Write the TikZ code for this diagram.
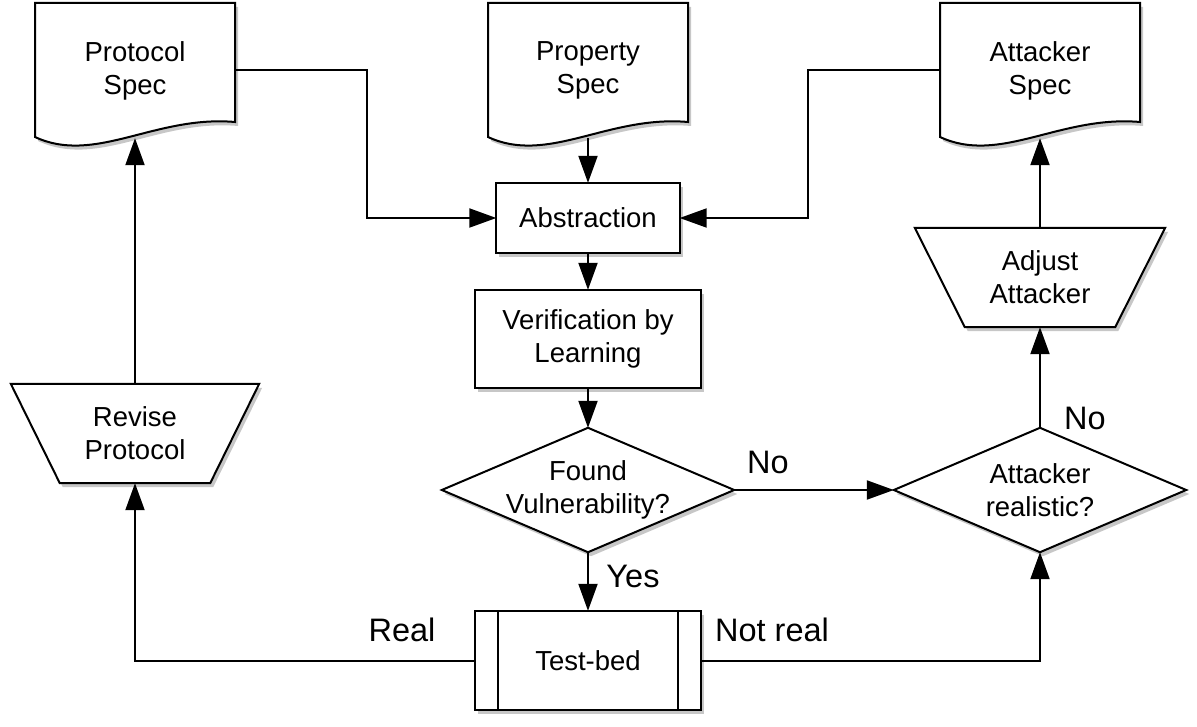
\documentclass[tikz,border=0pt]{standalone}
\usepackage{fontspec}
\setmainfont{Liberation Sans}
\usetikzlibrary{arrows.meta,shadows}
\pgfdeclarelayer{bg}
\pgfsetlayers{bg,main}
\begin{document}
\begin{tikzpicture}[x=1pt,y=-1pt,
  shp/.style={draw, line width=2pt, fill=white, line join=miter,
    drop shadow={shadow xshift=3pt, shadow yshift=-4pt, opacity=0.22, fill=black}},
  txt/.style={font=\fontsize{27.5}{33}\selectfont, align=center, inner sep=0pt},
  lbl/.style={font=\fontsize{32.5}{38}\selectfont, inner sep=0pt},
  conn/.style={line width=2pt, -{Triangle[length=27pt,width=19pt]}},
  plain/.style={line width=2pt}]
\useasboundingbox (0,0) rectangle (1197,727);

% invisible anchor nodes with text
\node[txt, minimum width=200pt, minimum height=135pt] (prot) at (135,70.5) {Protocol\\Spec};
\node[txt, minimum width=200pt, minimum height=135pt] (prop) at (588,70.5) {Property\\Spec};
\node[txt, minimum width=200pt, minimum height=135pt] (att) at (1040,70.5) {Attacker\\Spec};
\node[txt, minimum width=183pt, minimum height=70pt] (abs) at (588,218) {Abstraction};
\node[txt, minimum width=225pt, minimum height=98pt] (ver) at (588,339) {Verification by\\Learning};
\node[txt, minimum width=292pt, minimum height=124pt] (fv) at (588,490) {Found\\Vulnerability?};
\node[txt, minimum width=292pt, minimum height=124pt] (ar) at (1040,490) {Attacker\\realistic?};
\node[txt, minimum width=250pt, minimum height=99pt] (adj) at (1040,277.5) {Adjust\\Attacker};
\node[txt, minimum width=248pt, minimum height=99pt] (rev) at (135,433.5) {Revise\\Protocol};
\node[txt, minimum width=226pt, minimum height=99pt] (tb) at (588,660.5) {Test-bed};

\begin{pgfonlayer}{bg}
  % documents
  \foreach \c in {135,588,1040}{
    \draw[shp] ({\c-100},3) -- ({\c+100},3) -- ({\c+100},122)
      .. controls ({\c+20},115) and ({\c-40},165) .. ({\c-100},137) -- cycle;
  }
  % boxes
  \draw[shp] (abs.north west) rectangle (abs.south east);
  \draw[shp] (ver.north west) rectangle (ver.south east);
  \draw[shp] (tb.north west) rectangle (tb.south east);
  \draw[plain] ([xshift=23pt]tb.north west) -- ([xshift=23pt]tb.south west);
  \draw[plain] ([xshift=-23pt]tb.north east) -- ([xshift=-23pt]tb.south east);
  % diamonds
  \draw[shp] (fv.west) -- (fv.north) -- (fv.east) -- (fv.south) -- cycle;
  \draw[shp] (ar.west) -- (ar.north) -- (ar.east) -- (ar.south) -- cycle;
  % trapezoids
  \draw[shp] (adj.north west) -- (adj.north east) -- ([xshift=-50pt]adj.south east)
    -- ([xshift=50pt]adj.south west) -- cycle;
  \draw[shp] (rev.north west) -- (rev.north east) -- ([xshift=-49pt]rev.south east)
    -- ([xshift=49pt]rev.south west) -- cycle;
\end{pgfonlayer}

% connectors
\draw[conn] (prot.east) -- ++(132,0) |- (abs.west);
\draw[conn] (att.west) -- ++(-132,0) |- (abs.east);
\draw[conn] (prop.south) -- (abs.north);
\draw[conn] (abs.south) -- (ver.north);
\draw[conn] (ver.south) -- (fv.north);
\draw[conn] (fv.south) -- (tb.north);
\draw[conn] (fv.east) -- (ar.west);
\draw[conn] (tb.west) -| (rev.south);
\draw[conn] (tb.east) -| (ar.south);
\draw[conn] (ar.north) -- (adj.south);
\draw[conn] (adj.north) -- (att.south);
\draw[conn] (rev.north) -- (prot.south);

% labels
\node[lbl] (lno1) at (768,462) {No};
\node[lbl] (lyes) at (633,576) {Yes};
\node[lbl] (lreal) at (402,630) {Real};
\node[lbl] (lnotreal) at (772,630) {Not real};
\node[lbl] (lno2) at (1085,418) {No};
\end{tikzpicture}
\end{document}
